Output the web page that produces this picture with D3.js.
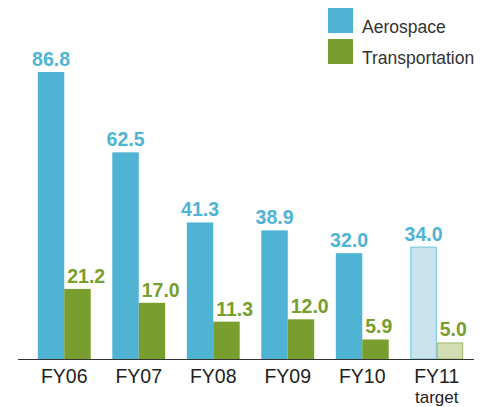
<!DOCTYPE html>
<html lang="en">
<head>
<meta charset="UTF-8">
<script src="https://d3js.org/d3.v7.min.js"></script>
<style>
    body { margin: 0; background: #fff; }
    svg text { font-family: "Liberation Sans", Arial, Helvetica, sans-serif; }
</style>
</head>
<body>
<svg id="chart"></svg>
<script>
    // data
    var years = ["FY06", "FY07", "FY08", "FY09", "FY10", "FY11"];
    var subLabels = ["", "", "", "", "", "target"];
    var series = ["Aerospace", "Transportation"];
    var aerospace = [86.8, 62.5, 41.3, 38.9, 32.0, 34.0];
    var transportation = [21.2, 17.0, 11.3, 12.0, 5.9, 5.0];
    var isTarget = [false, false, false, false, false, true];

    var width = 487, height = 407;
    var base = 359;

    var svg = d3.select("#chart").attr("width", width).attr("height", height);

    var x0 = d3.scaleBand().domain(years).range([27, 474]).paddingInner(0.29).paddingOuter(0.145);
    var x1 = d3.scaleBand().domain(series).range([0, x0.bandwidth()]);
    var y = d3.scaleLinear().domain([0, 86.8]).range([base, 72]);

    var colors = {
        Aerospace: { fill: "#4fb3d3", light: "#c9e3ef", stroke: "#72c3de", text: "#4fb3d3" },
        Transportation: { fill: "#779e2e", light: "#d2ddb3", stroke: "#9cb963", text: "#779e2e" }
    };

    var rows = years.map(function(d, i) {
        return { year: d, sub: subLabels[i], target: isTarget[i],
                 vals: [{ s: "Aerospace", v: aerospace[i] }, { s: "Transportation", v: transportation[i] }] };
    });

    var g = svg.selectAll(".grp").data(rows).enter().append("g")
        .attr("class", "grp")
        .attr("transform", function(d) { return "translate(" + x0(d.year) + ",0)"; });

    g.selectAll("rect").data(function(d) {
        return d.vals.map(function(v) { return { s: v.s, v: v.v, target: d.target }; });
    }).enter().append("rect")
        .attr("x", function(d) { return x1(d.s) + (d.target ? 0.5 : 0); })
        .attr("y", function(d) { return y(d.v) + (d.target ? 0.5 : 0); })
        .attr("width", function(d) { return x1.bandwidth() - (d.target ? 1 : 0); })
        .attr("height", function(d) { return base - y(d.v) - (d.target ? 0.5 : 0); })
        .attr("fill", function(d) { return d.target ? colors[d.s].light : colors[d.s].fill; })
        .attr("stroke", function(d) { return d.target ? colors[d.s].stroke : "none"; })
        .attr("stroke-width", 1);

    // value labels
    g.selectAll("text.val").data(function(d) { return d.vals; }).enter().append("text")
        .attr("class", "val")
        .attr("x", function(d) { return d.s === "Aerospace" ? x1(d.s) + x1.bandwidth() / 2 : x1(d.s) + 3; })
        .attr("y", function(d) { return y(d.v) - 6; })
        .attr("text-anchor", function(d) { return d.s === "Aerospace" ? "middle" : "start"; })
        .attr("fill", function(d) { return colors[d.s].text; })
        .style("font-size", "19.5px")
        .style("font-weight", "bold")
        .text(function(d) { return d.v.toFixed(1); });

    // baseline
    svg.append("line")
        .attr("x1", 18).attr("x2", 474)
        .attr("y1", base + 0.5).attr("y2", base + 0.5)
        .attr("stroke", "#333").attr("stroke-width", 1.2);

    // category labels
    g.append("text")
        .attr("x", x0.bandwidth() / 2)
        .attr("y", 383)
        .attr("text-anchor", "middle")
        .attr("fill", "#222")
        .style("font-size", "19.5px")
        .text(function(d) { return d.year; });

    g.filter(function(d) { return d.sub; }).append("text")
        .attr("x", x0.bandwidth() / 2)
        .attr("y", 403)
        .attr("text-anchor", "middle")
        .attr("fill", "#222")
        .style("font-size", "17px")
        .text(function(d) { return d.sub; });

    // legend
    var leg = svg.selectAll(".leg").data(series).enter().append("g")
        .attr("class", "leg")
        .attr("transform", function(d, i) { return "translate(328," + (8 + i * 31) + ")"; });
    leg.append("rect").attr("width", 25).attr("height", 25)
        .attr("fill", function(d) { return colors[d].fill; });
    leg.append("text").attr("x", 34).attr("y", 25)
        .attr("fill", "#333")
        .style("font-size", "17.5px")
        .text(function(d) { return d; });
</script>
</body>
</html>
